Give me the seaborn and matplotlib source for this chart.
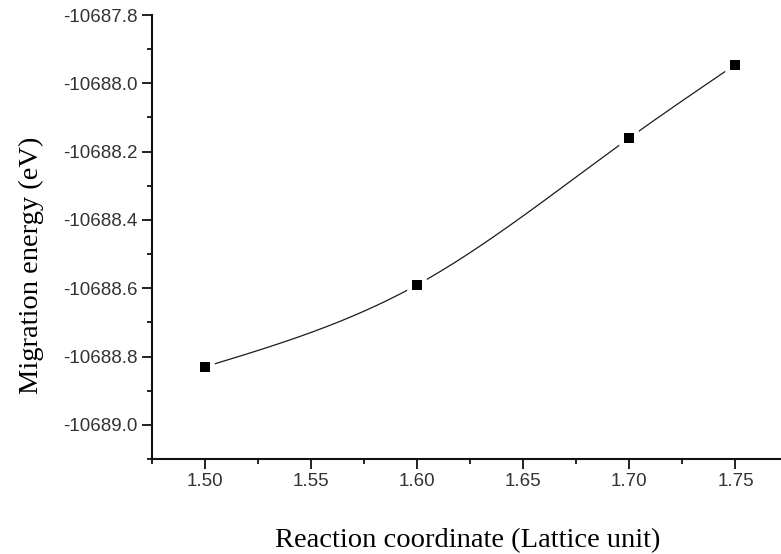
import numpy as np
import pandas as pd
import matplotlib
matplotlib.use("Agg")
import matplotlib.pyplot as plt
import seaborn as sns
from matplotlib.ticker import MultipleLocator, FormatStrFormatter

# Migration energy along the reaction coordinate
coordinate = [1.50, 1.60, 1.70, 1.75]
energy = [-10688.83, -10688.59, -10688.16, -10687.945]

x_ticks = [1.50, 1.55, 1.60, 1.65, 1.70, 1.75]
y_ticks = [-10689.0, -10688.8, -10688.6, -10688.4, -10688.2, -10688.0, -10687.8]

df = pd.DataFrame({"coordinate": coordinate, "energy": energy})


def natural_spline(x, y, n=300):
    """Natural cubic spline through (x, y), used to draw the connecting curve."""
    x = np.asarray(x, float)
    y = np.asarray(y, float)
    k = len(x)
    h = np.diff(x)
    A = np.zeros((k, k))
    b = np.zeros(k)
    A[0, 0] = A[-1, -1] = 1.0
    for i in range(1, k - 1):
        A[i, i - 1] = h[i - 1]
        A[i, i] = 2 * (h[i - 1] + h[i])
        A[i, i + 1] = h[i]
        b[i] = 6 * ((y[i + 1] - y[i]) / h[i] - (y[i] - y[i - 1]) / h[i - 1])
    M = np.linalg.solve(A, b)
    xs = np.linspace(x[0], x[-1], n)
    idx = np.clip(np.searchsorted(x, xs) - 1, 0, k - 2)
    x0, x1 = x[idx], x[idx + 1]
    hh = x1 - x0
    t0, t1 = x1 - xs, xs - x0
    ys = (M[idx] * t0 ** 3 + M[idx + 1] * t1 ** 3) / (6 * hh) \
        + (y[idx] / hh - M[idx] * hh / 6) * t0 \
        + (y[idx + 1] / hh - M[idx + 1] * hh / 6) * t1
    return xs, ys


sns.set_style("ticks")
plt.rcParams["font.family"] = ["Liberation Sans", "DejaVu Sans"]

fig = plt.figure(figsize=(7.81, 5.54), dpi=100)
ax = fig.add_axes([0.1946, 0.1715, 0.815, 0.8014])

xs, ys = natural_spline(df["coordinate"], df["energy"])
curve = pd.DataFrame({"coordinate": xs, "energy": ys})
sns.lineplot(data=curve, x="coordinate", y="energy", ax=ax,
             color="#1a1a1a", linewidth=0.9, sort=False, zorder=2)
ax.plot(df["coordinate"], df["energy"], linestyle="none", marker="s",
        markersize=10.5, markerfacecolor="black", markeredgecolor="white",
        markeredgewidth=4, zorder=3)
ax.plot(df["coordinate"], df["energy"], linestyle="none", marker="s",
        markersize=6.5, markerfacecolor="black", markeredgecolor="black",
        markeredgewidth=0, zorder=4)

ax.set_xlim(1.475, 1.775)
ax.set_ylim(-10689.1, -10687.8)
ax.set_xticks(x_ticks)
ax.set_yticks(y_ticks)
ax.xaxis.set_minor_locator(MultipleLocator(0.025))
ax.yaxis.set_minor_locator(MultipleLocator(0.1))
ax.xaxis.set_major_formatter(FormatStrFormatter("%.2f"))
ax.yaxis.set_major_formatter(FormatStrFormatter("%.1f"))

for side in ("top", "right"):
    ax.spines[side].set_visible(False)
for side in ("left", "bottom"):
    ax.spines[side].set_linewidth(1.5)
    ax.spines[side].set_color("#111111")

ax.tick_params(which="major", direction="out", length=7.2, width=1.3,
               color="#111111", labelsize=13.5, labelcolor="#333333", pad=3)
ax.tick_params(which="minor", direction="out", length=3.6, width=1.3,
               color="#111111")

label_font = {"family": ["Liberation Serif", "DejaVu Serif"], "size": 20.5,
              "color": "black"}
ax.set_xlabel("Reaction coordinate (Lattice unit)", fontdict=label_font)
ax.set_ylabel("Migration energy (eV)", fontdict=label_font)
ax.xaxis.set_label_coords(0.496, -0.155)
ax.yaxis.set_label_coords(-0.17, 0.437)

fig.savefig("out.png", dpi=100, facecolor="white")
